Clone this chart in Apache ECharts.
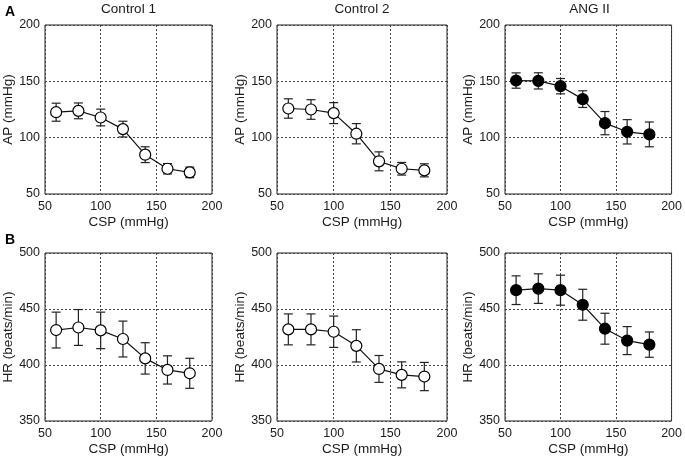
<!DOCTYPE html>
<html>
<head>
<meta charset="utf-8">
<script src="https://cdn.jsdelivr.net/npm/echarts@6/dist/echarts.min.js"></script>
<style>
  html, body { margin: 0; padding: 0; background: #fff; }
  #chart { width: 685px; height: 457px; }
</style>
</head>
<body>
<div id="chart"></div>
<script>
// carotid sinus pressure levels (mmHg)
const csp = [60, 80, 100, 120, 140, 160, 180];

// AP (mmHg), mean and error
const apCtrl1 = [122.6, 123.8, 117.9, 107.6, 84.9, 72.4, 69.2];
const apCtrl1Err = [8, 7, 7.4, 7, 7, 4.6, 4.7];
const apCtrl2 = [125.9, 125, 121.8, 103.5, 79, 72.4, 71];
const apCtrl2Err = [8.6, 8.7, 9.3, 9, 8.4, 5.6, 5.8];
const apAng = [150.7, 150.4, 145.7, 134.2, 112.9, 105.2, 102.9];
const apAngErr = [6.8, 7.2, 6.8, 7.4, 10.3, 10.8, 11];

// HR (beats/min), mean and error
const hrCtrl1 = [431.2, 433.5, 430.9, 423.2, 405.9, 395.6, 392.6];
const hrCtrl1Err = [16, 16, 16.3, 16, 14, 12.6, 13.4];
const hrCtrl2 = [431.8, 431.8, 429.7, 417.1, 396.5, 391.2, 389.7];
const hrCtrl2Err = [13.8, 13.8, 14, 14.4, 12, 11.6, 12.6];
const hrAng = [466.8, 468.2, 466.8, 453.8, 432.4, 421.8, 418.2];
const hrAngErr = [12.8, 13.2, 13.4, 13.8, 13.8, 12.5, 11.3];

const panelTitles = ['Control 1', 'Control 2', 'ANG II'];

const FONT = 'Liberation Sans, Arial, sans-serif';
const INK = '#1a1a1a';

// panel layout
const lefts = [45, 277, 505];
const widths = [167, 170, 169];
const tops = [25, 253];
const heights = [169, 169];

const panels = [
  { mean: apCtrl1, err: apCtrl1Err, filled: false, row: 0, col: 0 },
  { mean: apCtrl2, err: apCtrl2Err, filled: false, row: 0, col: 1 },
  { mean: apAng, err: apAngErr, filled: true, row: 0, col: 2 },
  { mean: hrCtrl1, err: hrCtrl1Err, filled: false, row: 1, col: 0 },
  { mean: hrCtrl2, err: hrCtrl2Err, filled: false, row: 1, col: 1 },
  { mean: hrAng, err: hrAngErr, filled: true, row: 1, col: 2 }
];

const grid = [], xAxis = [], yAxis = [], series = [];

panels.forEach((p, i) => {
  grid.push({
    left: lefts[p.col], top: tops[p.row],
    width: widths[p.col], height: heights[p.row],
    show: true, borderColor: '#222', borderWidth: 1, backgroundColor: 'transparent'
  });
  const dashed = { show: true, lineStyle: { color: '#444', type: [2, 2], width: 1 } };
  xAxis.push({
    gridIndex: i, type: 'value', min: 50, max: 200, interval: 50,
    name: 'CSP (mmHg)', nameLocation: 'middle', nameGap: 21,
    nameTextStyle: { fontFamily: FONT, fontSize: 13.5, color: INK },
    axisLine: { show: false }, axisTick: { show: false },
    axisLabel: { fontFamily: FONT, fontSize: 12.5, color: INK, margin: 6 },
    splitLine: dashed
  });
  const isAP = p.row === 0;
  yAxis.push({
    gridIndex: i, type: 'value',
    min: isAP ? 50 : 350, max: isAP ? 200 : 500, interval: 50,
    name: isAP ? 'AP (mmHg)' : 'HR (beats/min)', nameLocation: 'middle', nameGap: 26,
    nameTextStyle: { fontFamily: FONT, fontSize: 13.5, color: INK },
    axisLine: { show: false }, axisTick: { show: false },
    axisLabel: { fontFamily: FONT, fontSize: 12.5, color: INK, margin: 5 },
    splitLine: dashed
  });

  // error bars
  series.push({
    type: 'custom', xAxisIndex: i, yAxisIndex: i, z: 2,
    data: csp.map((x, k) => [x, p.mean[k], p.err[k]]),
    renderItem: (params, api) => {
      const x = api.value(0), m = api.value(1), e = api.value(2);
      const hi = api.coord([x, m + e]);
      const lo = api.coord([x, m - e]);
      const cw = 4.5;
      const st = { stroke: '#222', lineWidth: 1.2 };
      return {
        type: 'group',
        children: [
          { type: 'line', shape: { x1: hi[0], y1: hi[1], x2: lo[0], y2: lo[1] }, style: st },
          { type: 'line', shape: { x1: hi[0] - cw, y1: hi[1], x2: hi[0] + cw, y2: hi[1] }, style: st },
          { type: 'line', shape: { x1: lo[0] - cw, y1: lo[1], x2: lo[0] + cw, y2: lo[1] }, style: st }
        ]
      };
    }
  });

  // mean line with markers
  series.push({
    type: 'line', xAxisIndex: i, yAxisIndex: i, z: 3,
    data: csp.map((x, k) => [x, p.mean[k]]),
    symbol: 'circle', symbolSize: 11,
    lineStyle: { color: '#111', width: 1.2 },
    itemStyle: { color: p.filled ? '#000' : '#fff', borderColor: '#000', borderWidth: 1.2 },
    animation: false
  });
});

const title = panelTitles.map((t, c) => ({
  text: t, left: lefts[c] + widths[c] / 2, top: 2, textAlign: 'center', padding: 0,
  textStyle: { fontFamily: FONT, fontSize: 13.5, fontWeight: 'normal', color: INK }
}));
title.push({ text: 'A', left: 5, top: 5, padding: 0, textStyle: { fontFamily: FONT, fontSize: 14, fontWeight: 'bold', color: '#000' } });
title.push({ text: 'B', left: 5, top: 233, padding: 0, textStyle: { fontFamily: FONT, fontSize: 14, fontWeight: 'bold', color: '#000' } });

const chart = echarts.init(document.getElementById('chart'));
chart.setOption({
  animation: false,
  backgroundColor: '#fff',
  title: title,
  grid: grid,
  xAxis: xAxis,
  yAxis: yAxis,
  series: series
});
</script>
</body>
</html>
